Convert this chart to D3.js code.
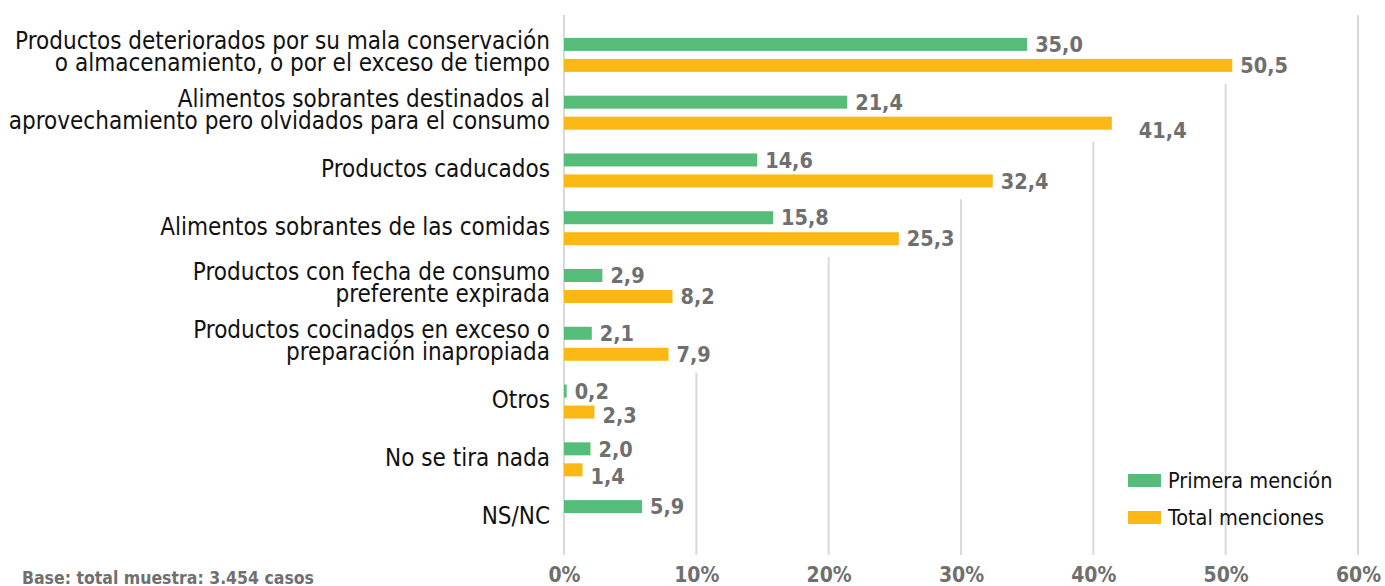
<!DOCTYPE html>
<html>
<head>
<meta charset="UTF-8">
<title>Motivos de desperdicio</title>
<script src="https://cdn.jsdelivr.net/npm/d3@7"></script>
<style>
  body { margin: 0; background: #fff; }
  text { font-family: "DejaVu Sans Condensed", "DejaVu Sans", sans-serif; }
</style>
</head>
<body>
<script>
// categorias (saltos de linea con \n)
var categories = [
  "Productos deteriorados por su mala conservación\no almacenamiento, o por el exceso de tiempo",
  "Alimentos sobrantes destinados al\naprovechamiento pero olvidados para el consumo",
  "Productos caducados",
  "Alimentos sobrantes de las comidas",
  "Productos con fecha de consumo\npreferente expirada",
  "Productos cocinados en exceso o\npreparación inapropiada",
  "Otros",
  "No se tira nada",
  "NS/NC"
];
var primeraMencion = [35.0, 21.4, 14.6, 15.8, 2.9, 2.1, 0.2, 2.0, 5.9];
var totalMenciones = [50.5, 41.4, 32.4, 25.3, 8.2, 7.9, 2.3, 1.4, null];
var seriesNames = ["Primera mención", "Total menciones"];
var xTicks = [0, 10, 20, 30, 40, 50, 60];
var nota = "Base: total muestra: 3.454 casos";

var colores = ["#55bc7a", "#fbb714"];
var gris = "#6f6f6f";

var W = 1385, H = 586;
var plot = { left: 564, right: 1358, top: 26, bottom: 546 };

var svg = d3.select("body").append("svg")
  .attr("width", W)
  .attr("height", H);

var x = d3.scaleLinear().domain([0, 60]).range([plot.left, plot.right]);
var y = d3.scaleBand().domain(d3.range(categories.length)).range([plot.top, plot.bottom]);

var gridG = svg.append("g");
var barG = svg.append("g");
var labG = svg.append("g");

// datos por barra
var bars = [];
categories.forEach(function(c, i) {
  [primeraMencion, totalMenciones].forEach(function(s, k) {
    if (s[i] != null) bars.push({ i: i, k: k, v: s[i] });
  });
});

var barH = 13, off = 10.5;
barG.selectAll("rect").data(bars).enter().append("rect")
  .attr("x", x(0))
  .attr("y", function(d) { return y(d.i) + y.bandwidth() / 2 + (d.k ? off : -off) - barH / 2; })
  .attr("width", function(d) { return x(d.v) - x(0); })
  .attr("height", barH)
  .attr("fill", function(d) { return colores[d.k]; });

// ajustes manuales de algunas etiquetas (como en el original)
var nudge = { "1-1": [19, 7], "6-1": [0, 3], "7-1": [0, 6] };
var fmt = function(v) { return d3.format(".1f")(v).replace(".", ","); };

var vlab = labG.selectAll("text.v").data(bars).enter().append("text")
  .attr("class", "v")
  .attr("x", function(d) { var n = nudge[d.i + "-" + d.k]; return x(d.v) + 8 + (n ? n[0] : 0); })
  .attr("y", function(d) { var n = nudge[d.i + "-" + d.k]; return y(d.i) + y.bandwidth() / 2 + (d.k ? off : -off) + (n ? n[1] : 0); })
  .attr("dy", "0.36em")
  .attr("font-size", 21.5)
  .attr("font-weight", "bold")
  .attr("fill", gris)
  .text(function(d) { return fmt(d.v); });

// extension a la derecha de cada fila (barra + etiqueta)
var ext = categories.map(function() { return x(0); });
vlab.each(function(d) {
  var b = this.getBBox();
  ext[d.i] = Math.max(ext[d.i], b.x + b.width + 6);
});

// categorias
labG.selectAll("text.c").data(categories).enter().append("text")
  .attr("class", "c")
  .attr("text-anchor", "end")
  .attr("font-size", 24)
  .attr("fill", "#111")
  .each(function(c, i) {
    var lines = c.split("\n");
    var t = d3.select(this);
    lines.forEach(function(l, j) {
      t.append("tspan")
        .attr("x", 550)
        .attr("y", y(i) + y.bandwidth() / 2 - (lines.length > 1 ? 3 : 2) + (j - (lines.length - 1) / 2) * 22)
        .attr("dy", "0.35em")
        .text(l);
    });
  });

// lineas de la cuadricula (ocultas donde pasan las etiquetas)
var gridTop = 15, gridBottom = 555;
gridG.selectAll("line").data(xTicks).enter().append("line")
  .attr("x1", function(d) { return x(d); })
  .attr("x2", function(d) { return x(d); })
  .attr("y1", function(d) {
    if (d === 0) return gridTop;
    var last = -1;
    ext.forEach(function(e, i) { if (e > x(d)) last = i; });
    return last < 0 ? gridTop : y(last) + y.bandwidth();
  })
  .attr("y2", gridBottom)
  .attr("stroke", "#d9d9d9")
  .attr("stroke-width", 2);

// eje x
var axis = svg.append("g")
  .attr("transform", "translate(0," + gridBottom + ")")
  .call(d3.axisBottom(x).tickValues(xTicks).tickFormat(function(d) { return d + "%"; }).tickSize(0).tickPadding(12));
axis.select(".domain").remove();
axis.selectAll("text")
  .attr("font-family", null)
  .attr("font-size", 21)
  .attr("font-weight", "bold")
  .attr("fill", gris);

// leyenda
var leg = svg.append("g").attr("transform", "translate(1128,474)");
seriesNames.forEach(function(n, k) {
  var g = leg.append("g").attr("transform", "translate(0," + k * 37 + ")");
  g.append("rect").attr("width", 33).attr("height", 13).attr("fill", colores[k]);
  g.append("text").attr("x", 40).attr("y", 6.5).attr("dy", "0.35em")
    .attr("font-size", 21.5).attr("fill", "#111").text(n);
});

// nota
svg.append("text")
  .attr("x", 22).attr("y", 584)
  .attr("font-size", 17.5)
  .attr("font-weight", "bold")
  .attr("fill", gris)
  .text(nota);
</script>
</body>
</html>
